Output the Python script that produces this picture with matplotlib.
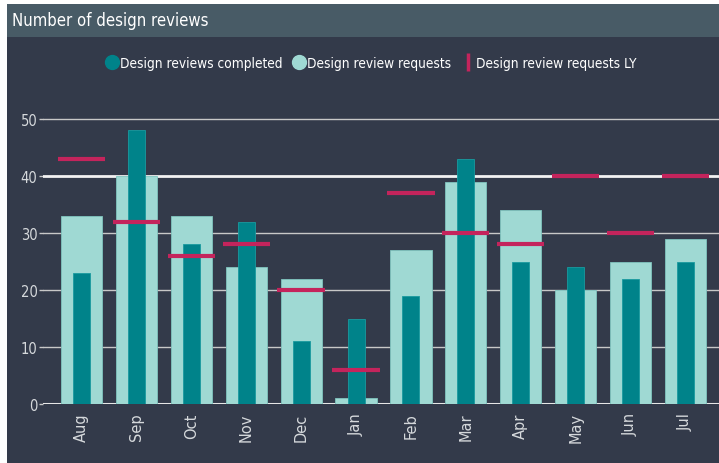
import numpy as np
import matplotlib.pyplot as plt
from matplotlib.patches import Rectangle
from matplotlib.lines import Line2D

MONTHS    = ["Aug", "Sep", "Oct", "Nov", "Dec", "Jan", "Feb", "Mar", "Apr", "May", "Jun", "Jul"]
REQUESTS  = [33, 40, 33, 24, 22, 1, 27, 39, 34, 20, 25, 29]
COMPLETED = [23, 48, 28, 32, 11, 15, 19, 43, 25, 24, 22, 25]
LY        = [43, 32, 26, 28, 20, 6, 37, 30, 28, 40, 30, 40]
Y_TICKS   = [0, 10, 20, 30, 40, 50]

BG      = "#333a4a"
HEADER  = "#485b66"
TEAL    = "#00838a"
MINT    = "#9fd9d3"
PINK    = "#c4245c"
TXT     = "#d6d9dc"

W, H = 719, 464
fig = plt.figure(figsize=(W / 100, H / 100), dpi=100, facecolor="white")
font = ["DejaVu Sans"]
narrow = dict(family=font, stretch="condensed")

# panel background and header bar, on an axes underneath everything
bg = fig.add_axes([0, 0, 1, 1], zorder=-10)
bg.set_axis_off()
bg.set_xlim(0, W)
bg.set_ylim(H, 0)
bg.add_patch(Rectangle((7, 5), W - 7, H - 5, facecolor=BG, edgecolor="none"))
bg.add_patch(Rectangle((7, 5), W - 7, 33, facecolor=HEADER, edgecolor="none"))
bg.text(12, 21, "Number of design reviews", color="white", fontsize=12,
        va="center", ha="left", **narrow)

ax = fig.add_axes([43 / W, 1 - 405 / H, 1 - 43 / W, 302 / H])
ax.set_facecolor("none")

x = np.arange(len(MONTHS))
ax.bar(x, REQUESTS, width=0.75, color=MINT, edgecolor="#7fc4bf", linewidth=0.6, zorder=3)
ax.bar(x, COMPLETED, width=0.31, color=TEAL, edgecolor="#1a9a9f", linewidth=0.6, zorder=4)
ax.hlines(LY, x - 0.43, x + 0.43, color=PINK, linewidth=3.0, zorder=5)

ax.set_xlim(-0.70, 11.61)
ax.set_ylim(0, 53)
ax.set_yticks(Y_TICKS)
ax.set_xticks(x)
ax.set_xticklabels(MONTHS, rotation=90, color=TXT, fontsize=10.5)
ax.tick_params(axis="x", length=0, pad=6)
ax.tick_params(axis="y", colors=TXT, labelsize=10.5, length=3, width=1, color="#c8c8c8", pad=1)
for lbl in ax.get_yticklabels():
    lbl.set_fontstretch("condensed")

for t in Y_TICKS:
    if t == 0:
        ax.axhline(t, color="#e6e6e6", linewidth=2.2, zorder=2)
    elif t == 40:
        ax.axhline(t, color="#f2f2f2", linewidth=2.0, zorder=2)
    else:
        ax.axhline(t, color="#c8c8c8", linewidth=1.0, zorder=2)

for s in ax.spines.values():
    s.set_visible(False)

handles = [
    Line2D([], [], marker="o", linestyle="none", markersize=10, markerfacecolor=TEAL,
           markeredgecolor=TEAL, label="Design reviews completed"),
    Line2D([], [], marker="o", linestyle="none", markersize=10, markerfacecolor=MINT,
           markeredgecolor=MINT, label="Design review requests"),
    Line2D([], [], marker="|", linestyle="none", markersize=13, markeredgewidth=2.5,
           color=PINK, label="Design review requests LY"),
]
leg = ax.legend(handles=handles, loc="center", bbox_to_anchor=(372 / W, 1 - 64 / H),
                bbox_transform=fig.transFigure,
                ncol=3, frameon=False, handlelength=0.6, handletextpad=0.3,
                columnspacing=0.9, prop={"family": font, "size": 9.8, "stretch": "condensed"})
for t in leg.get_texts():
    t.set_color("white")

fig.savefig("out.png", dpi=100, facecolor=fig.get_facecolor())
